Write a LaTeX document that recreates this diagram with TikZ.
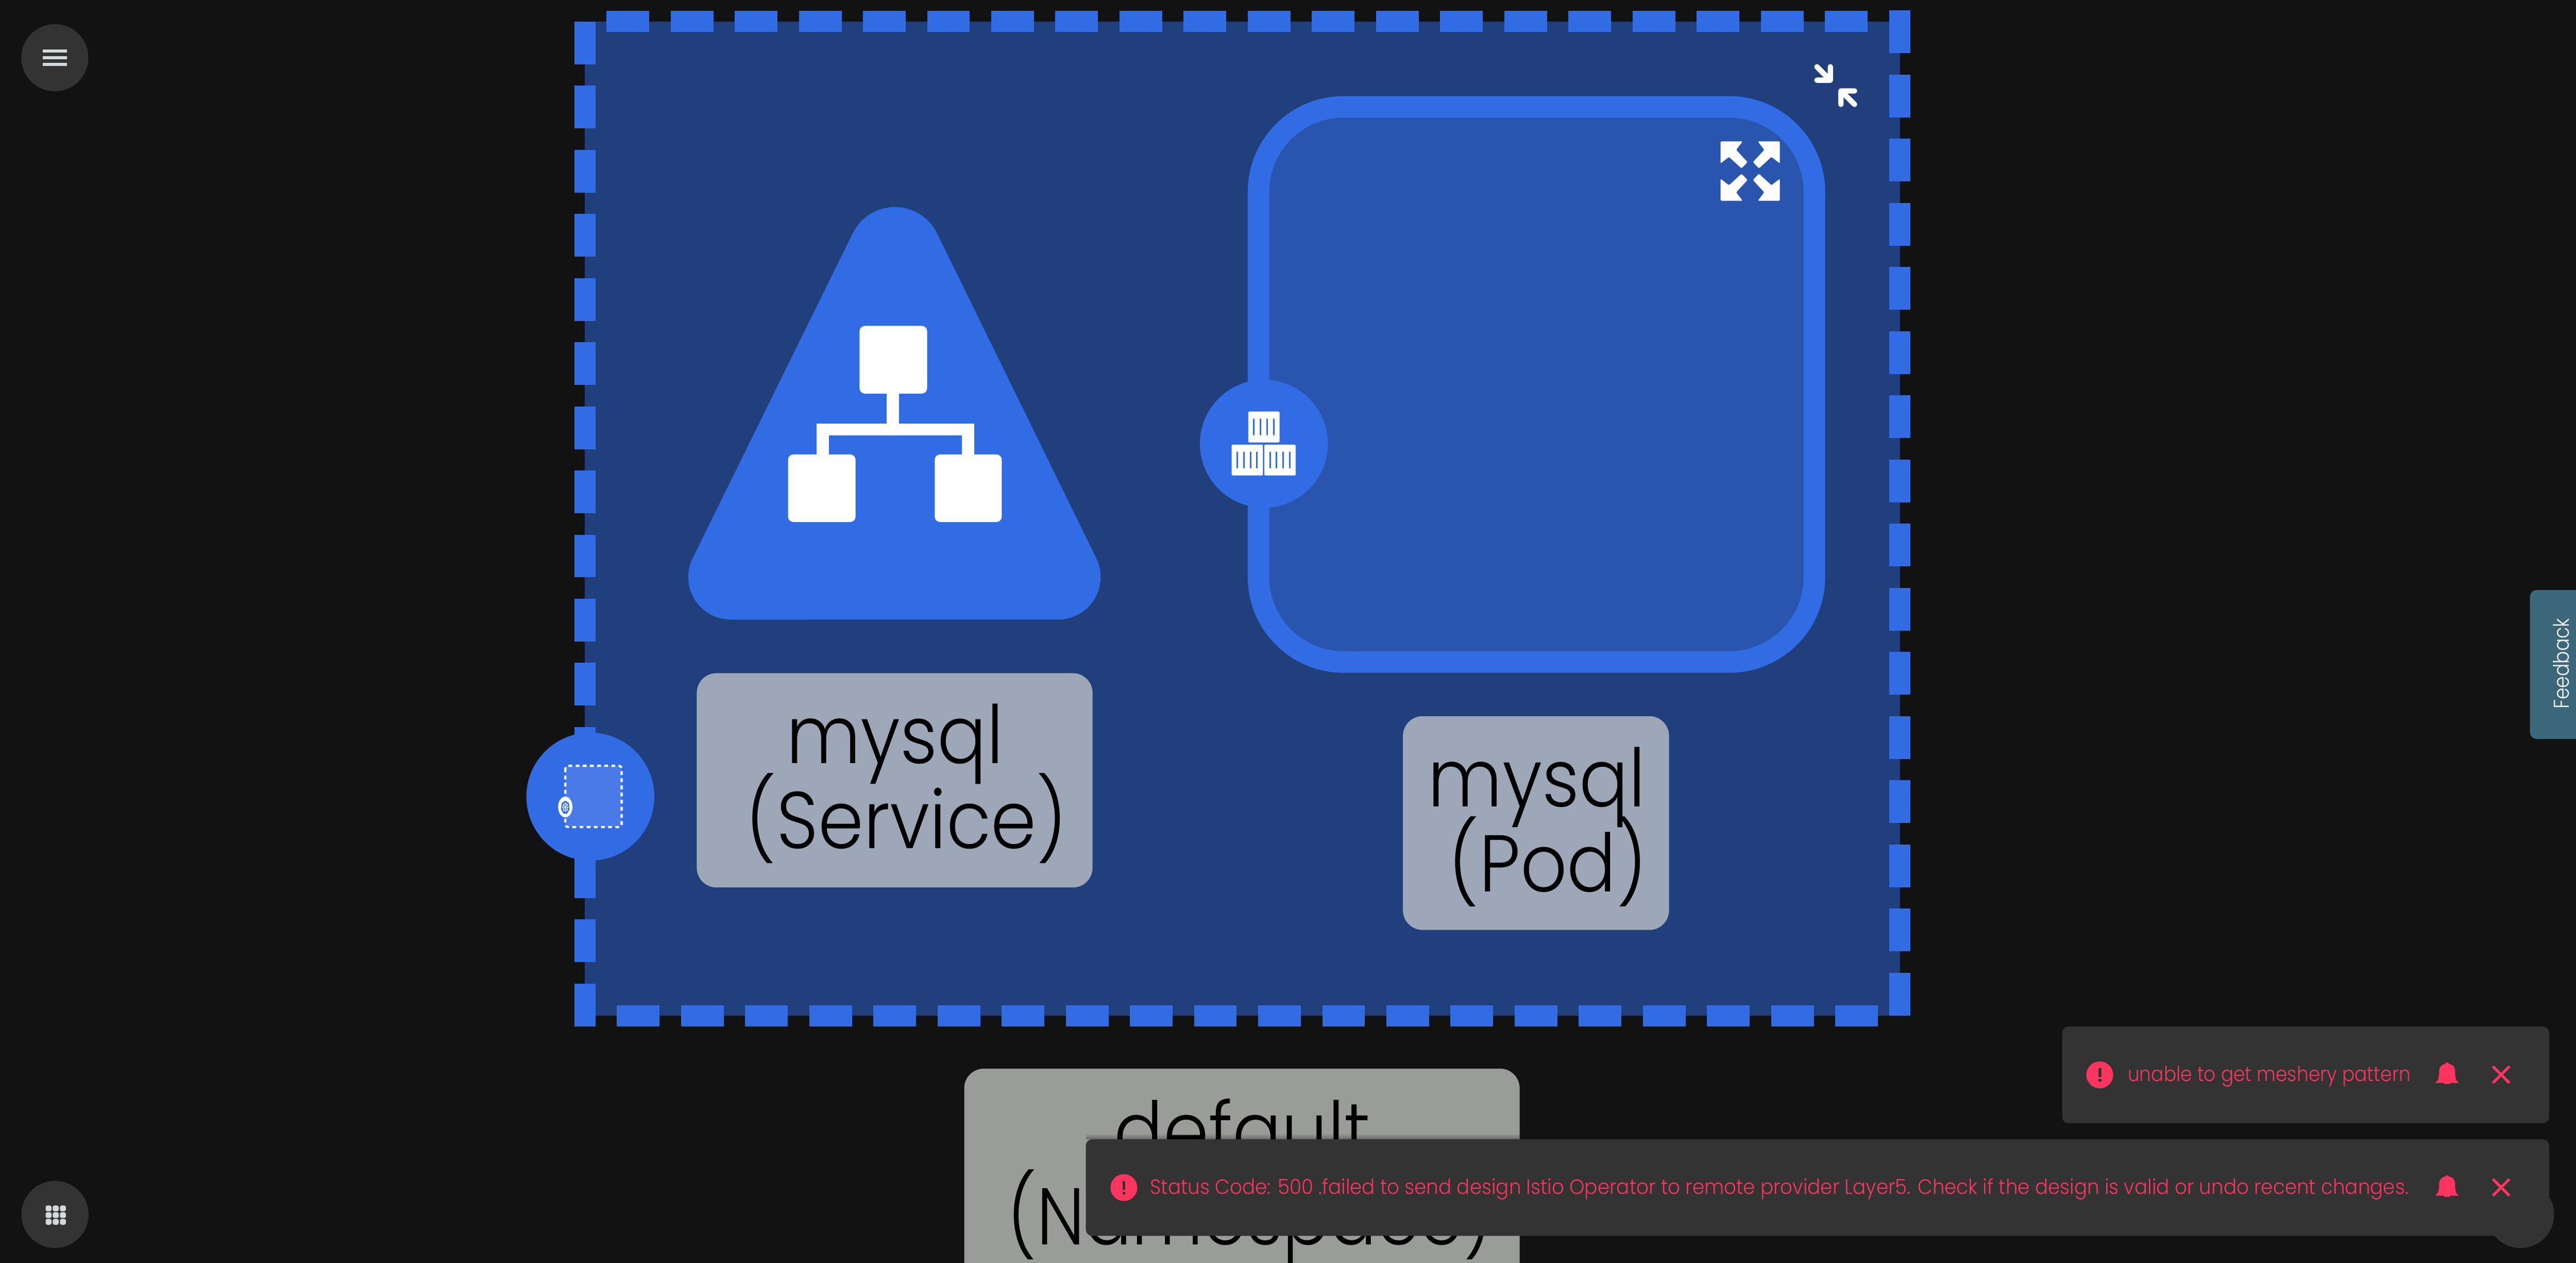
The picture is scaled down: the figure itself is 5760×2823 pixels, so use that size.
\documentclass[tikz,border=0pt]{standalone}
\usepackage{fontspec}
\setmainfont[FakeStretch=0.87]{Poppins Light}
\newfontfamily\bigfam[FakeStretch=0.905]{Poppins Light}
\begin{document}
\begin{tikzpicture}[x=0.25pt,y=-0.25pt,
  dashblue/.style={fill=kblue},
  labelbox/.style={fill=lblgrey,rounded corners=11pt},
  bigtext/.style={anchor=base,inner sep=0pt,text=black,font=\bigfam\fontsize{45}{50}\selectfont},
  toastbox/.style={fill=toastgrey,rounded corners=3.5pt},
  toasttext/.style={anchor=base west,inner sep=0pt,text=errred,font=\fontsize{11.6}{14}\selectfont},
  roundbtn/.style={circle,fill=toastgrey,minimum size=37.5pt,inner sep=0pt},
  btnicon/.style={fill=iconlight},
  slot/.style={line width=0.85pt,draw=kblue,line cap=round},
  collapsearrow/.style={draw=white,line width=3pt,line cap=round,line join=round},
]
\definecolor{pagebg}{HTML}{121212}
\definecolor{kblue}{HTML}{326CE5}
\definecolor{nsfill}{HTML}{213F7C}
\definecolor{podfill}{HTML}{2A55AE}
\definecolor{lblgrey}{HTML}{9DA7B7}
\definecolor{nsgrey}{HTML}{9A9C99}
\definecolor{toastgrey}{HTML}{333333}
\definecolor{errred}{HTML}{FF3560}
\definecolor{iconlight}{HTML}{D3D8DB}
\definecolor{feedbk}{HTML}{3C677B}
\definecolor{sqfill}{HTML}{4A7AE8}
\path[use as bounding box] (0,0) rectangle (5760,2823);
\clip (0,0) rectangle (5760,2823);
\fill[pagebg] (0,0) rectangle (5760,2823);
% namespace body
\fill[nsfill] (1308,48) rectangle (4248,2271);
\foreach \k in {0,...,15} {\fill[dashblue] (1284,{48+143.4*\k}) rectangle (1332,{143.6+143.4*\k});}
\foreach \k in {0,...,15} {\fill[dashblue] (4224,{23.5+143.4*\k}) rectangle (4272,{119.1+143.4*\k});}
\foreach \k in {0,...,19} {\fill[dashblue] ({1356+143.4*\k},24) rectangle ({1451.6+143.4*\k},72);}
\foreach \k in {0,...,19} {\fill[dashblue] ({1379.5+143.37*\k},2247) rectangle ({1475+143.37*\k},2295);}
% pod
\draw[kblue,fill=podfill,line width=12pt,rounded corners=47.5pt] (2814,239) rectangle (4057,1480);
% service triangle
\fill[kblue] (1906.8,521.6) arc[start angle=-153.8,end angle=-26.2,radius=105]
  -- (2451.2,1248) arc[start angle=-26.2,end angle=90,radius=95]
  -- (1634,1385) arc[start angle=90,end angle=206.2,radius=95] -- cycle;
% service icon
\fill[white,rounded corners=3pt] (1922,728.5) rectangle (2073,880);
\fill[white,rounded corners=3pt] (1762,1016) rectangle (1913,1167);
\fill[white,rounded corners=3pt] (2090,1016) rectangle (2240,1167);
\fill[white] (1983,875) rectangle (2010,960);
\fill[white] (1826,946.6) rectangle (2178,973);
\fill[white] (1826,960) rectangle (1853,1020);
\fill[white] (2151,960) rectangle (2178,1020);
% pod port
\node[circle,fill=kblue,minimum size=71.5pt,inner sep=0pt] (podport) at (2826,992) {};
\foreach \bx/\by in {2791/920,2754/994,2827/994} {
  \fill[white,rounded corners=0.5pt] (\bx,\by) rectangle ++(70,69);
  \foreach \s in {12.9,27.5,42.2,56.8} {\draw[slot] ({\bx+\s},{\by+17}) -- ({\bx+\s},{\by+52});}
}
% namespace port
\node[circle,fill=kblue,minimum size=71.5pt,inner sep=0pt] (nsport) at (1320,1781) {};
\draw[white,fill=sqfill,line width=1.25pt,rounded corners=1.5pt,dash pattern=on 2.1pt off 1.9pt] (1264,1712) rectangle (1390,1849);
\fill[white] (1264,1804) ellipse[x radius=16,y radius=23.3];
\fill[kblue] (1264,1790) -- (1272,1795) -- (1273.5,1809) -- (1268,1819) -- (1260,1819) -- (1254.5,1809) -- (1256,1795) -- cycle;
\draw[white,line width=0.3pt] (1264,1804.5) ellipse[x radius=5.5,y radius=8.5];
\foreach \a in {0,45,...,315} {\draw[white,line width=0.25pt] (1264,1804.5) -- ++({7.5*cos(\a)},{11*sin(\a)});}
% expand icon
\begin{scope}[shift={(3913.5,382.5)}]
\foreach \sx/\sy in {1/1,-1/1,1/-1,-1/-1} {
  \fill[white,rounded corners=0.5pt,xscale=\sx,yscale=\sy] (-66.3,-66.3) -- (-17,-66.3) -- (-31.5,-47.5) -- (-6,-20) -- (-19.5,-6) -- (-47.5,-31.7) -- (-66.3,-17) -- cycle;
}
\end{scope}
% collapse icon
\draw[collapsearrow] (4062.7,149.3) -- (4092.7,179.3) (4092.7,149.3) -- (4092.7,179.3) -- (4062.7,179.3);
\draw[collapsearrow] (4146.7,233.3) -- (4116.3,203.3) (4146.7,203.3) -- (4116.3,203.3) -- (4116.3,233.3);
% labels
\fill[labelbox] (1558,1505) rectangle (2443,1984);
\node[bigtext] (svc1) at (2001,1707) {mysql};
\node[bigtext] (svc2) at (2027,1897) {(Service)};
\fill[labelbox] (3137,1601) rectangle (3732,2079);
\node[bigtext] (pod1) at (3436,1803) {mysql};
\node[bigtext] (pod2) at (3461,1993) {(Pod)};
\fill[nsgrey,rounded corners=11pt] (2156,2389) rectangle (3398,3000);
\node[bigtext] (ns1) at (2778,2593) {default};
\node[bigtext] (ns2) at (2795,2783) {\scalebox{0.96}[1]{(Namespace)}};
% bottom-right hidden button
\node[roundbtn] (helpbtn) at (5636,2715) {};
% toast shadow on namespace label
\foreach \h in {1.5,3,5,7.5,11} {\fill[black,fill opacity=0.07] (2428,2547-\h) rectangle (3398,2547);}
% toasts
\fill[toastbox] (4611,2295) rectangle (5700,2511);
\fill[toastbox] (2428,2547) rectangle (5700,2763);
\foreach \dy/\cx/\tx/\sc/\msg in {0/4695/4757/1.03/unable to get meshery pattern,252/2513/2571/1.065/Status Code: 500 .failed to send design Istio Operator to remote provider Layer5. Check if the design is valid or undo recent changes.} {
  \begin{scope}[yshift={-0.25pt*\dy}]
  \fill[errred] (\cx,2403) circle[radius=30];
  \fill[toastgrey] ({\cx-3},2388) rectangle ({\cx+3.5},2408);
  \fill[toastgrey] ({\cx-3},2412) rectangle ({\cx+3.5},2418);
  \node[toasttext] at (\tx,2418) {\scalebox{\sc}[1]{\msg}};
  \fill[errred] (5445,2421) .. controls (5452,2416) and (5454,2410) .. (5454,2393) .. controls (5454,2385) and (5462,2379) .. (5467,2378.5) .. controls (5468,2374.5) and (5475,2374.5) .. (5476,2378.5) .. controls (5483,2379) and (5489.5,2385) .. (5489.5,2393) .. controls (5489.5,2410) and (5491,2416) .. (5498,2421) -- cycle;
  \fill[errred] (5464.5,2423.5) arc[start angle=180,end angle=0,x radius=7,y radius=-7] -- cycle;
  \draw[errred,line width=1.5pt] (5574,2384) -- (5611,2421) (5611,2384) -- (5574,2421);
  \end{scope}
}
% left buttons
\node[roundbtn] (menubtn) at (122.6,129) {};
\fill[btnicon] (96,111) rectangle (150,117);
\fill[btnicon] (96,126) rectangle (150,132);
\fill[btnicon] (96,141) rectangle (150,147);
\node[roundbtn] (gridbtn) at (123,2715) {};
\foreach \gx in {102,118,134} {\foreach \gy in {2695,2710,2725} {\fill[btnicon,rounded corners=1pt] (\gx,\gy) rectangle ++(13.3,13);}}
% feedback
\fill[feedbk,rounded corners=3.75pt] (5657,1319) rectangle (5800,1652);
\node[anchor=base,rotate=90,inner sep=0pt,text=white,font=\fontsize{12}{14}\selectfont] (feedback) at (5744,1483.5) {Feedback};
\end{tikzpicture}
\end{document}
